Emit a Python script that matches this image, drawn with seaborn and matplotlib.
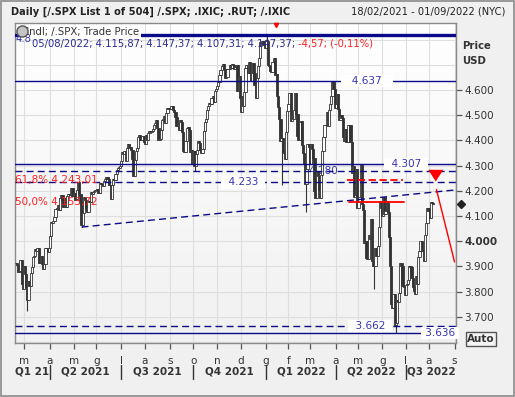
import numpy as np
import pandas as pd
import matplotlib
matplotlib.use("Agg")
import matplotlib.pyplot as plt
import matplotlib.transforms as mtransforms
import seaborn as sns

# daily closes of /.SPX, one list per month
close_2021_02 = [3913, 3906, 3876, 3881, 3925, 3829, 3811]
close_2021_03 = [3901, 3870, 3820, 3768, 3842, 3821, 3875, 3898, 3939, 3943, 3968, 3963,
                 3974, 3915, 3913, 3940, 3910, 3889, 3910, 3974, 3971, 3959, 3973]
close_2021_04 = [4020, 4078, 4074, 4080, 4097, 4129, 4128, 4142, 4125, 4171, 4185, 4163,
                 4135, 4173, 4135, 4180, 4187, 4186, 4183, 4211, 4181]
close_2021_05 = [4192, 4165, 4168, 4202, 4233, 4189, 4152, 4063, 4113, 4174, 4164, 4128,
                 4116, 4160, 4156, 4197, 4188, 4195, 4200, 4204]
close_2021_06 = [4202, 4208, 4192, 4230, 4226, 4227, 4220, 4239, 4247, 4255, 4246, 4224,
                 4222, 4166, 4224, 4246, 4242, 4266, 4281, 4291, 4291, 4298]
close_2021_07 = [4320, 4352, 4344, 4358, 4320, 4370, 4385, 4369, 4374, 4360, 4327, 4259,
                 4324, 4359, 4368, 4412, 4422, 4402, 4400, 4419, 4395]
close_2021_08 = [4387, 4423, 4403, 4429, 4437, 4432, 4436, 4447, 4460, 4468, 4479, 4448,
                 4400, 4406, 4442, 4480, 4486, 4497, 4470, 4509, 4529, 4523]
close_2021_09 = [4524, 4537, 4535, 4520, 4514, 4493, 4459, 4469, 4443, 4481, 4474, 4433,
                 4358, 4354, 4396, 4449, 4455, 4443, 4353, 4360, 4308]
close_2021_10 = [4357, 4300, 4345, 4363, 4399, 4391, 4361, 4351, 4364, 4438, 4471, 4486,
                 4519, 4537, 4549, 4545, 4567, 4575, 4551, 4596, 4605]
close_2021_11 = [4614, 4631, 4660, 4680, 4697, 4702, 4685, 4647, 4650, 4683, 4683, 4701,
                 4689, 4705, 4698, 4682, 4691, 4701, 4595, 4655, 4567]
close_2021_12 = [4513, 4577, 4538, 4592, 4686, 4701, 4668, 4712, 4669, 4635, 4709, 4669,
                 4621, 4568, 4649, 4697, 4726, 4791, 4786, 4793, 4778, 4766]
close_2022_01 = [4797, 4794, 4701, 4696, 4677, 4671, 4713, 4726, 4659, 4663, 4577, 4533,
                 4483, 4398, 4410, 4357, 4350, 4327, 4432, 4516]
close_2022_02 = [4546, 4589, 4477, 4501, 4484, 4522, 4587, 4504, 4419, 4401, 4472, 4475,
                 4380, 4349, 4305, 4226, 4288, 4385, 4374]
close_2022_03 = [4306, 4387, 4364, 4329, 4201, 4171, 4278, 4260, 4204, 4173, 4262, 4358,
                 4412, 4463, 4461, 4512, 4457, 4520, 4543, 4576, 4632, 4602, 4530]
close_2022_04 = [4546, 4583, 4526, 4481, 4501, 4488, 4413, 4397, 4447, 4392, 4392, 4463,
                 4460, 4394, 4272, 4297, 4175, 4184, 4288, 4132]
close_2022_05 = [4155, 4175, 4301, 4147, 4123, 3991, 4001, 3935, 3930, 4024, 4008, 4089,
                 3923, 3901, 3901, 3974, 3941, 3979, 4058, 4158, 4132]
close_2022_06 = [4101, 4177, 4109, 4121, 4161, 4116, 4018, 3901, 3750, 3735, 3790, 3667,
                 3675, 3765, 3760, 3796, 3912, 3901, 3821, 3819, 3785]
close_2022_07 = [3825, 3831, 3845, 3903, 3899, 3855, 3819, 3802, 3790, 3863, 3831, 3937,
                 3960, 3999, 3962, 3967, 3921, 4024, 4072, 4130]
close_2022_08 = [4119, 4091, 4155, 4152, 4147]
first_open = 3915

# intraday extremes that stick out of the bodies
wick_dates = ["2021-03-04", "2021-05-12", "2021-10-04", "2022-01-04", "2022-01-24",
              "2022-02-24", "2022-03-29", "2022-05-20", "2022-06-17"]
wick_prices = [3723, 4056, 4279, 4818, 4222, 4114, 4637, 3810, 3636]

# horizontal levels drawn on the chart
level_values = [4818, 4637, 4307, 4280, 4233, 3662, 3636]
level_labels = ["4.8", "4.637", "4.307", "4.280", "4.233", "3.662", "3.636"]

trend_dates = ["2021-05-12", "2022-09-01"]
trend_prices = [4056, 4203]
proj_dates = ["2022-08-10", "2022-09-01"]
proj_prices = [4205, 3918]
fib_values = [4243.01, 4153.72]
fib_labels = ["61,8% 4.243,01", "50,0% 4.153,72"]
last_close = 4147.37

holidays = ["2021-04-02", "2021-05-31", "2021-07-05", "2021-09-06", "2021-11-25",
            "2021-12-24", "2022-01-17", "2022-02-21", "2022-04-15", "2022-05-30",
            "2022-06-20", "2022-07-04"]

closes = (close_2021_02 + close_2021_03 + close_2021_04 + close_2021_05 + close_2021_06 +
          close_2021_07 + close_2021_08 + close_2021_09 + close_2021_10 + close_2021_11 +
          close_2021_12 + close_2022_01 + close_2022_02 + close_2022_03 + close_2022_04 +
          close_2022_05 + close_2022_06 + close_2022_07 + close_2022_08)

days = pd.bdate_range("2021-02-18", "2022-09-01", freq="C", holidays=holidays)
pos = {d: i for i, d in enumerate(days)}

def ix(d):
    return pos[pd.Timestamp(d)]

df = pd.DataFrame({"date": days[:len(closes)], "close": closes})
df["i"] = np.arange(len(df))
df["open"] = df["close"].shift(1).fillna(first_open)
df["lo"] = df[["open", "close"]].min(axis=1)
df["hi"] = df[["open", "close"]].max(axis=1)
for d, p in zip(wick_dates, wick_prices):
    k = ix(d)
    df.loc[k, "lo"] = min(df.loc[k, "lo"], p)
    df.loc[k, "hi"] = max(df.loc[k, "hi"], p)

sns.set_theme(style="white")
plt.rcParams["font.family"] = ["DejaVu Sans"]

W, H = 515, 397
fig = plt.figure(figsize=(W / 100, H / 100), dpi=100, facecolor="#f0f0f0")
L, R, T, B = 14.7, 456, 22.7, 343
ax = fig.add_axes([L / W, 1 - B / H, (R - L) / W, (B - T) / H])
x0, x1 = -1.2, 389.3
y0, y1 = 3596, 4867
ax.set_xlim(x0, x1)
ax.set_ylim(y0, y1)

def xi(px):
    return x0 + (px - L) / (R - L) * (x1 - x0)

def yi(py):
    return y1 - (py - T) / (B - T) * (y1 - y0)

# soft background
grad = np.linspace(1, 0, 50).reshape(-1, 1)
cm = matplotlib.colors.LinearSegmentedColormap.from_list("g", ["#f1f1f1", "#ffffff"])
ax.imshow(grad, extent=[x0, x1, y0, y1], aspect="auto", cmap=cm, zorder=0)

# grid
sd = pd.Series(days)
mstart = [i for i in sd.groupby(sd.dt.to_period("M")).apply(lambda s: s.index.min()).values if i > 0]
for i in mstart:
    ax.axvline(i, color="#dedede", lw=0.8, zorder=0.5)
for p in range(3600, 4900, 100):
    ax.axhline(p, color="#dedede", lw=0.8, zorder=0.5)

# candles
up = df["close"] >= df["open"]
ax.vlines(df["i"], df["lo"], df["hi"], color="#333333", lw=0.8, zorder=3)
ax.bar(df["i"], (df["close"] - df["open"]).abs().clip(lower=2),
       bottom=df[["open", "close"]].min(axis=1), width=2.0,
       color=np.where(up, "#ffffff", "#333333"), edgecolor="#333333", linewidth=0.6, zorder=3)

navy = "#0a0a8a"
lab = "#3535b5"
ax.axhline(level_values[0], color=navy, lw=2.4, zorder=4)
ax.axhline(level_values[1], color=navy, lw=1.0, zorder=4)
ax.axhline(level_values[2], color=navy, lw=1.0, zorder=4)
ax.axhline(level_values[3], color=navy, lw=1.0, ls=(0, (5, 3)), zorder=4)
ax.axhline(level_values[4], color=navy, lw=1.0, ls=(0, (5, 3)), zorder=4)
ax.axhline(level_values[5], color=navy, lw=1.0, ls=(0, (5, 3)), zorder=4)
ax.plot([x0, xi(424)], [level_values[6]] * 2, color=navy, lw=1.0, zorder=4)

box = dict(boxstyle="square,pad=0.1", fc="white", ec="none")
tk = dict(fontsize=7.5, color=lab, ha="center", va="center")
ax.text(xi(367), level_values[1], "   " + level_labels[1] + "   ", bbox=box, zorder=4.5, **tk)
ax.text(xi(406), level_values[2], "  " + level_labels[2] + "  ", bbox=box, zorder=4.5, **tk)
ax.text(xi(323), level_values[3], level_labels[3], zorder=2, **tk)
ax.text(xi(243), level_values[4], "  " + level_labels[4] + "  ", bbox=box, zorder=4.5, **tk)
ax.text(xi(370), level_values[5], "  " + level_labels[5] + "  ", bbox=box, zorder=4.5, **tk)
ax.text(xi(440), level_values[6], " " + level_labels[6] + " ", bbox=box, zorder=4.5, **tk)

# trend line and projection
tr = pd.DataFrame({"x": [ix(d) for d in trend_dates], "y": trend_prices})
sns.lineplot(data=tr, x="x", y="y", ax=ax, color=navy, lw=1.0, zorder=4)
ax.lines[-1].set_linestyle((0, (5, 3)))
pr = pd.DataFrame({"x": [ix(d) for d in proj_dates], "y": proj_prices})
sns.lineplot(data=pr, x="x", y="y", ax=ax, color="red", lw=1.0, zorder=5)

# fibonacci marks
ax.plot([ix("2022-04-18"), ix("2022-06-28")], [fib_values[0]] * 2, color="red", lw=1.3,
        ls=(0, (4, 2)), zorder=5)
ax.plot([ix("2022-04-20"), ix("2022-06-29")], [fib_values[1]] * 2, color="red", lw=1.3, zorder=5)
for v, t in zip(fib_values, fib_labels):
    ax.text(xi(15), v, t, color="#ff2020", fontsize=7.5, va="center", ha="left", zorder=5)

# arrow
ax.annotate("", xy=(ix("2022-08-09") + 0.4, 4226), xytext=(ix("2022-08-09") + 0.4, 4294),
            arrowprops=dict(arrowstyle="simple,head_width=0.9,head_length=0.7,tail_width=0.3",
                            color="red", lw=0), zorder=6)

# small top marker, clock icon, legend
ax.plot([xi(276)], [y1 - 10], marker="v", color="red", ms=3, zorder=6, clip_on=False)
ax.text(xi(22.5), yi(32), "Cndl; /.SPX; Trade Price", fontsize=7.3,
        color="#333333", va="center", ha="left", zorder=6,
        bbox=dict(boxstyle="square,pad=0.15", fc="white", ec="none"))
ax.text(xi(16), yi(38.5), level_labels[0], fontsize=7.3, color=lab, va="center", ha="left", zorder=7)
fig.lines.append(plt.Line2D([22 / W], [1 - 31 / H], marker="o", ms=8, mfc="#c4c4c4", mec="#555555",
                            transform=fig.transFigure, zorder=8))
t2 = ax.text(xi(32), yi(43.5), "05/08/2022; 4.115,87; 4.147,37; 4.107,31; 4.147,37; ",
             fontsize=7.2, color="#2b2b9a", va="center", ha="left", zorder=6)
ax.annotate("-4,57; (-0,11%)", xy=(1, 0.5), xycoords=t2, va="center", ha="left",
            fontsize=7.2, color="#ff2020", zorder=6)

# diamond at last close
bt = mtransforms.blended_transform_factory(ax.transAxes, ax.transData)
ax.plot([1 + 5 / (R - L)], [last_close], marker="D", ms=4, color="#222222", transform=bt,
        clip_on=False, zorder=8)

# axes styling
for s in ax.spines.values():
    s.set_color("#8a8a8a")
    s.set_linewidth(1.0)
ax.yaxis.tick_right()
ticks = list(range(3700, 4700, 100))
ax.set_yticks(ticks)
ax.set_yticklabels([f"{t // 1000}.{t % 1000:03d}" for t in ticks], fontsize=7.5, color="#333333")
for lbl, t in zip(ax.get_yticklabels(), ticks):
    if t == 4000:
        lbl.set_fontweight("bold")
ax.tick_params(axis="y", right=True, length=4, width=0.9, color="#555555", pad=2)
ax.set_xticks(mstart)
initials = "gfmamglasond"
ax.set_xticklabels([initials[days[i].month - 1] for i in mstart], fontsize=7.5, color="#333333")
ax.tick_params(axis="x", bottom=True, length=4, width=0.9, color="#555555", pad=5)
ax.set_xlabel("")
ax.set_ylabel("")
ax.grid(False)

# quarter labels
bx = mtransforms.blended_transform_factory(ax.transData, fig.transFigure)
qs = [i for i in mstart if days[i].month in (1, 4, 7, 10)]
edges = [x0] + qs + [x1]
qnames = ["Q1 21", "Q2 2021", "Q3 2021", "Q4 2021", "Q1 2022", "Q2 2022", "Q3 2022"]
for a, b, name in zip(edges[:-1], edges[1:], qnames):
    ax.text((a + b) / 2, 1 - 372 / H, name, transform=bx, fontsize=7.5, fontweight="bold",
            color="#333333", ha="center", va="center")
for q in qs:
    fig.lines.append(plt.Line2D([q, q], [1 - 365 / H, 1 - 379 / H], transform=bx, color="#333333", lw=1))

# header and right axis title
fig.text(11 / W, 1 - 12 / H, "Daily [/.SPX List 1 of 504] /.SPX; .IXIC; .RUT; /.IXIC", fontsize=7.1,
         fontweight="bold", color="#222222", va="center", ha="left")
fig.text(505 / W, 1 - 12 / H, "18/02/2021 - 01/09/2022 (NYC)", fontsize=7.1, color="#222222",
         va="center", ha="right")
fig.text(462 / W, 1 - 46 / H, "Price", fontsize=7.3, fontweight="bold", color="#333333", va="center")
fig.text(462 / W, 1 - 61 / H, "USD", fontsize=7.3, fontweight="bold", color="#333333", va="center")
fig.text(481 / W, 1 - 339 / H, "Auto", fontsize=7.5, fontweight="bold", color="#333333",
         va="center", ha="center",
         bbox=dict(boxstyle="square,pad=0.15", fc="#f4f4f4", ec="#555555", lw=1))
fig.patches.append(plt.Rectangle((0.001, 0.002), 0.997, 0.996, transform=fig.transFigure,
                                 fill=False, ec="#8a8a8a", lw=1.2))

fig.savefig("out.png", dpi=100, facecolor=fig.get_facecolor())
